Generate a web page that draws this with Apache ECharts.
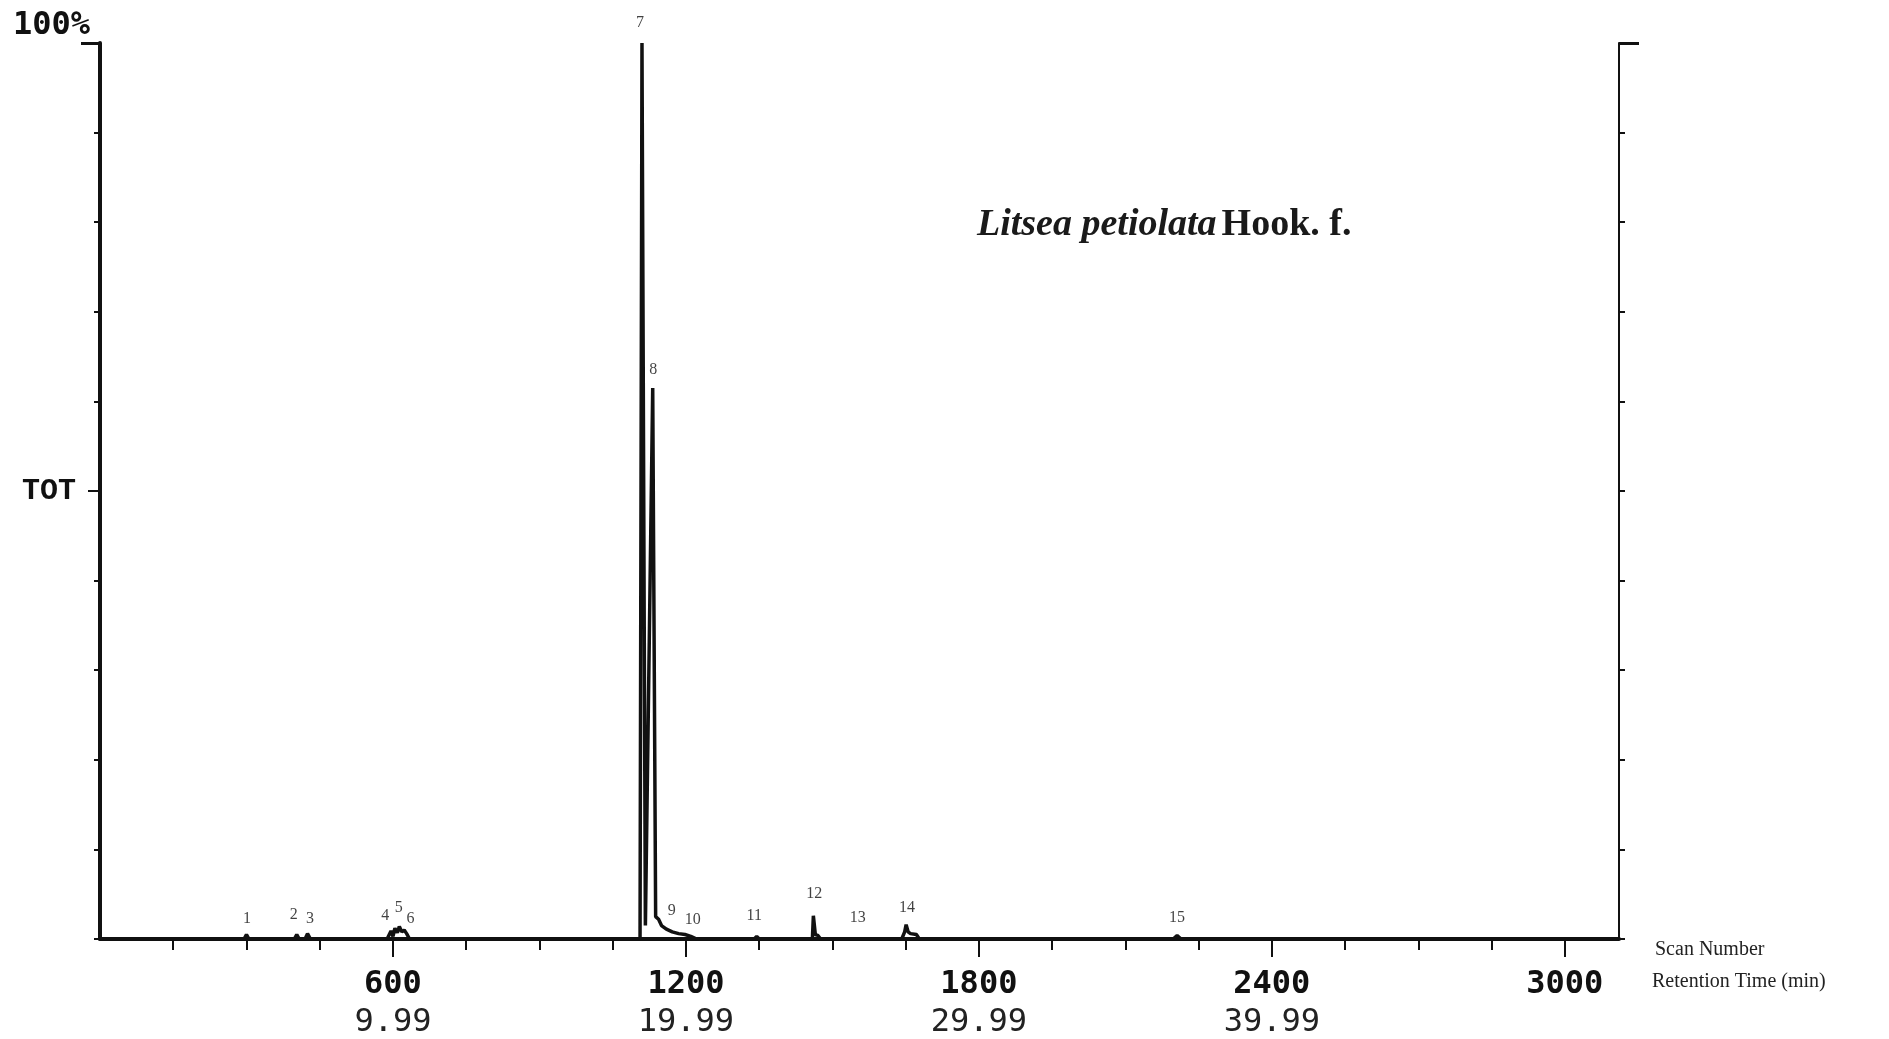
<!DOCTYPE html>
<html>
<head>
<meta charset="utf-8">
<title>Litsea petiolata TIC</title>
<script src="https://cdn.jsdelivr.net/npm/echarts@6/dist/echarts.min.js"></script>
<style>
  html, body { margin: 0; padding: 0; background: #fff; }
  #main { width: 1889px; height: 1039px; }
</style>
</head>
<body>
<div id="main"></div>
<script>
// total ion chromatogram: scan number -> relative abundance (%)
var traceScan = [0, 295, 300, 305, 398, 403, 408, 420, 425, 431,
  588, 596, 600, 604, 609, 613, 618, 623, 628, 634,
  1106, 1110, 1117, 1132, 1138, 1144, 1150, 1160, 1172, 1185, 1198, 1210, 1222,
  1340, 1345, 1350, 1459, 1461, 1463, 1465, 1470, 1476, 1548, 1552, 1556,
  1642, 1648, 1651, 1655, 1660, 1672, 1678, 2198, 2206, 2214, 3111]
var traceAbund = [0, 0, 0.5, 0, 0, 0.5, 0, 0, 0.6, 0,
  0, 0.9, 0.3, 1.2, 0.7, 1.4, 0.8, 1.0, 0.6, 0,
  0, 100, 1.5, 61.5, 2.5, 2.2, 1.5, 1.1, 0.8, 0.6, 0.5, 0.3, 0,
  0, 0.3, 0, 0, 2.6, 2.6, 0.5, 0.4, 0, 0, 0.2, 0,
  0, 0.8, 1.6, 0.8, 0.6, 0.5, 0, 0, 0.4, 0, 0]

// peak numbers and where their labels sit
var peakNo = ['1', '2', '3', '4', '5', '6', '7', '8', '9', '10', '11', '12', '13', '14', '15']
var peakScan = [301, 397, 430, 584, 612, 636, 1106, 1133, 1171, 1214, 1340, 1463, 1552, 1653, 2206]
var peakLabelY = [2.2, 2.7, 2.3, 2.6, 3.5, 2.3, 102.3, 63.5, 3.2, 2.1, 2.6, 5.0, 2.4, 3.5, 2.4]

// axis ticks
var scanMax = 3111
var minorTicks = [150, 300, 450, 750, 900, 1050, 1350, 1500, 1650, 1950, 2100, 2250, 2550, 2700, 2850]
var scanTicks = [600, 1200, 1800, 2400, 3000]
var timeTicks = ['9.99', '19.99', '29.99', '39.99', '']

var ink = '#111'
var myChart = echarts.init(document.getElementById('main'))

myChart.setOption({
  animation: false,
  backgroundColor: '#fff',
  title: {
    text: '{i|Litsea petiolata} {r|Hook. f.}',
    left: 972,
    top: 201,
    textStyle: {
      rich: {
        i: { fontFamily: 'Liberation Serif', fontStyle: 'italic', fontSize: 38, color: '#1a1a1a' },
        r: { fontFamily: 'Liberation Serif', fontWeight: 'bold', fontSize: 38, color: '#1a1a1a' }
      }
    }
  },
  grid: { left: 100, right: 270, top: 43, bottom: 98 },
  xAxis: [
    {
      type: 'value', min: 0, max: scanMax,
      axisLine: { onZero: false, lineStyle: { color: ink, width: 4 } },
      axisTick: { customValues: minorTicks, length: 11, lineStyle: { color: ink, width: 2 } },
      axisLabel: { show: false },
      splitLine: { show: false }
    },
    {
      type: 'value', min: 0, max: scanMax, position: 'bottom',
      axisLine: { show: false },
      axisTick: { customValues: scanTicks, length: 18, lineStyle: { color: ink, width: 2 } },
      axisLabel: {
        customValues: scanTicks,
        margin: 27,
        formatter: function (v) {
          var t = timeTicks[scanTicks.indexOf(v)]
          return t ? '{a|' + v + '}\n{b|' + t + '}' : '{a|' + v + '}'
        },
        rich: {
          a: { fontFamily: 'DejaVu Sans Mono', fontWeight: 'bold', fontSize: 32, lineHeight: 38, color: ink },
          b: { fontFamily: 'DejaVu Sans Mono', fontSize: 32, lineHeight: 38, color: '#222' }
        }
      },
      splitLine: { show: false }
    }
  ],
  yAxis: [
    {
      type: 'value', min: 0, max: 100, interval: 10, position: 'left',
      axisLine: { show: true, onZero: false, lineStyle: { color: ink, width: 4 } },
      axisTick: { length: 6, lineStyle: { color: ink, width: 2 } },
      axisLabel: {
        customValues: [50],
        formatter: function () { return 'TOT' },
        margin: 24,
        fontFamily: 'Liberation Mono', fontWeight: 'bold', fontSize: 30, color: ink
      },
      splitLine: { show: false }
    },
    {
      type: 'value', min: 0, max: 100, position: 'left',
      axisLine: { show: false },
      axisTick: { customValues: [50], length: 12, lineStyle: { color: ink, width: 2 } },
      axisLabel: { show: false },
      splitLine: { show: false }
    },
    {
      type: 'value', min: 0, max: 100, position: 'left',
      axisLine: { show: false },
      axisTick: { customValues: [100], length: 19, lineStyle: { color: ink, width: 3 } },
      axisLabel: { show: false },
      splitLine: { show: false }
    },
    {
      type: 'value', min: 0, max: 100, interval: 10, position: 'right',
      axisLine: { show: true, onZero: false, lineStyle: { color: ink, width: 2 } },
      axisTick: { length: 6, lineStyle: { color: ink, width: 2 } },
      axisLabel: { show: false },
      splitLine: { show: false }
    },
    {
      type: 'value', min: 0, max: 100, position: 'right',
      axisLine: { show: false },
      axisTick: { customValues: [100], length: 20, lineStyle: { color: ink, width: 3 } },
      axisLabel: { show: false },
      splitLine: { show: false }
    }
  ],
  graphic: [
    {
      type: 'text', left: 13, top: 10,
      style: { text: '100%', fontFamily: 'DejaVu Sans Mono', fontWeight: 'bold', fontSize: 32, fill: ink }
    },
    {
      type: 'text', left: 1655, top: 940,
      style: { text: 'Scan Number', fontFamily: 'Liberation Serif', fontSize: 20, fill: '#222' }
    },
    {
      type: 'text', left: 1652, top: 972,
      style: { text: 'Retention Time (min)', fontFamily: 'Liberation Serif', fontSize: 20, fill: '#222' }
    }
  ],
  series: [
    {
      name: 'TOT',
      type: 'line',
      xAxisIndex: 0,
      yAxisIndex: 0,
      data: traceScan.map(function (s, i) { return [s, traceAbund[i]] }),
      showSymbol: false,
      symbol: 'none',
      lineStyle: { color: ink, width: 3.5 },
      silent: true
    },
    {
      name: 'peaks',
      type: 'scatter',
      xAxisIndex: 0,
      yAxisIndex: 0,
      clip: false,
      symbolSize: 0,
      data: peakScan.map(function (s, i) { return [s, peakLabelY[i], peakNo[i]] }),
      label: {
        show: true,
        position: 'inside',
        formatter: function (p) { return p.value[2] },
        fontFamily: 'Liberation Serif',
        fontSize: 16,
        color: ink
      },
      silent: true
    }
  ]
})
</script>
</body>
</html>
